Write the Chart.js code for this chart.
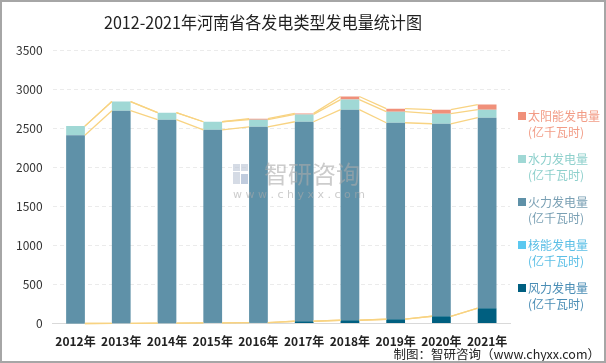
<!DOCTYPE html>
<html>
<head>
<meta charset="utf-8">
<script src="https://cdn.jsdelivr.net/npm/chart.js@4/dist/chart.umd.min.js"></script>
<style>
  html, body { margin: 0; padding: 0; background: #fff; }
  .wrap { position: relative; width: 606px; height: 363px; box-sizing: border-box; border: 2px solid #a6a6a6; overflow: hidden; }
  canvas { position: absolute; left: 0; top: 0; }
  .legend { position: absolute; left: 514px; top: 106px; font-family: 'Noto Sans CJK SC', sans-serif; font-size: 12px; line-height: 16px; }
  .legend .item { position: relative; padding-left: 12px; height: 43px; }
  .legend .sw { position: absolute; left: 2px; top: 4px; width: 8px; height: 8px; }
  .footer { position: absolute; right: 4px; bottom: 0px; font-family: 'Noto Sans CJK SC', sans-serif; font-size: 12.5px; line-height: 14px; color: #222; }
</style>
</head>
<body>
<div class="wrap">
  <canvas id="chart" width="602" height="359"></canvas>
  <div class="legend" id="legend"></div>
  <div class="footer">制图：智研咨询（www.chyxx.com）</div>
</div>
<script>
const years = ['2012年', '2013年', '2014年', '2015年', '2016年', '2017年', '2018年', '2019年', '2020年', '2021年'];
const wind = [1, 3, 5, 10, 12, 30, 43, 56, 94, 198];
const nuclear = [0, 0, 0, 0, 0, 0, 0, 0, 0, 0];
const thermal = [2412, 2725, 2607, 2473, 2509, 2556, 2698, 2517, 2466, 2440];
const hydro = [117, 117, 90, 103, 91, 94, 129, 142, 129, 103];
const solar = [0, 0, 0, 0, 13, 13, 39, 39, 52, 65];
const yTicks = [0, 500, 1000, 1500, 2000, 2500, 3000, 3500];

// bottom to top in the stack
const series = [
  { label: '风力发电量', data: wind, color: '#005f80', text: '#4a8db5' },
  { label: '核能发电量', data: nuclear, color: '#5bc8f0', text: '#5bbfe6' },
  { label: '火力发电量', data: thermal, color: '#5f91a8', text: '#7aa0b4' },
  { label: '水力发电量', data: hydro, color: '#a0d8d5', text: '#8ed0cc' },
  { label: '太阳能发电量', data: solar, color: '#f0907a', text: '#f29c86' }
];

// html legend, top item is the top of the stack
const legendEl = document.getElementById('legend');
series.slice().reverse().forEach(s => {
  const d = document.createElement('div');
  d.className = 'item';
  d.style.color = s.text;
  d.innerHTML = '<span class="sw" style="background:' + s.color + '"></span>' + s.label + '<br>(亿千瓦时)';
  legendEl.appendChild(d);
});

// Excel-style series lines between the tops of stacked segments
const seriesLines = {
  id: 'seriesLines',
  afterDatasetsDraw(chart) {
    const ctx = chart.ctx;
    ctx.save();
    ctx.strokeStyle = '#f8d382';
    ctx.lineWidth = 1.3;
    chart.data.datasets.forEach((ds, di) => {
      const bars = chart.getDatasetMeta(di).data;
      for (let i = 0; i < bars.length - 1; i++) {
        const a = bars[i], b = bars[i + 1];
        ctx.beginPath();
        ctx.moveTo(a.x + a.width / 2, a.y);
        ctx.lineTo(b.x - b.width / 2, b.y);
        ctx.stroke();
      }
    });
    ctx.restore();
  },
  afterDraw(chart) {
    // faint watermark
    const ctx = chart.ctx;
    ctx.save();
    ctx.fillStyle = 'rgba(190,200,215,0.65)';
    ctx.fillRect(231, 162, 7, 7);
    ctx.fillRect(239, 162, 7, 7);
    ctx.fillRect(231, 170, 7, 12);
    ctx.fillStyle = 'rgba(150,170,200,0.6)';
    ctx.fillRect(239, 172, 7, 10);
    ctx.fillStyle = 'rgba(170,170,170,0.6)';
    ctx.font = '24px "Noto Sans CJK SC"';
    ctx.textBaseline = 'middle';
    ctx.fillText('智研咨询', 262, 172);
    ctx.font = '11px "DejaVu Sans"';
    ctx.fillText('w w w . c h y x x . c o m', 231, 193);
    ctx.restore();
  }
};

new Chart(document.getElementById('chart'), {
  type: 'bar',
  data: {
    labels: years,
    datasets: series.map(s => ({
      label: s.label,
      data: s.data,
      backgroundColor: s.color,
      borderWidth: 0,
      barPercentage: 0.41,
      categoryPercentage: 1
    }))
  },
  options: {
    responsive: false,
    animation: false,
    layout: { padding: { left: 4, right: 94, top: 0, bottom: 9 } },
    plugins: {
      legend: { display: false },
      tooltip: { enabled: false },
      title: {
        display: true,
        text: '2012-2021年河南省各发电类型发电量统计图',
        color: '#222',
        align: 'start',
        font: { family: '"Noto Sans CJK SC"', size: 17, weight: 'normal' },
        padding: { top: 10, bottom: 18, left: 0 }
      }
    },
    scales: {
      x: {
        stacked: true,
        grid: { display: false },
        border: { color: '#d9d9d9', width: 1 },
        ticks: { color: '#222', font: { family: '"Noto Sans CJK SC"', size: 12, weight: 'bold' }, padding: 3, maxRotation: 0, autoSkip: false }
      },
      y: {
        stacked: true,
        min: 0,
        max: 3500,
        afterBuildTicks: axis => { axis.ticks = yTicks.map(v => ({ value: v })); },
        grid: { color: '#ebebeb', drawTicks: false },
        border: { display: false, dash: [4, 3] },
        ticks: { color: '#333', font: { family: '"Noto Sans CJK SC"', size: 12 }, padding: 10, callback: v => String(v) }
      }
    }
  },
  plugins: [seriesLines, {
    id: 'titleShift',
    beforeDraw(chart) {
      // reference title sits a little left of centre
      const t = chart.titleBlock;
      if (t) { t.left = 102; t.right = 420; t.width = 318; }
    }
  }]
});
</script>
</body>
</html>
